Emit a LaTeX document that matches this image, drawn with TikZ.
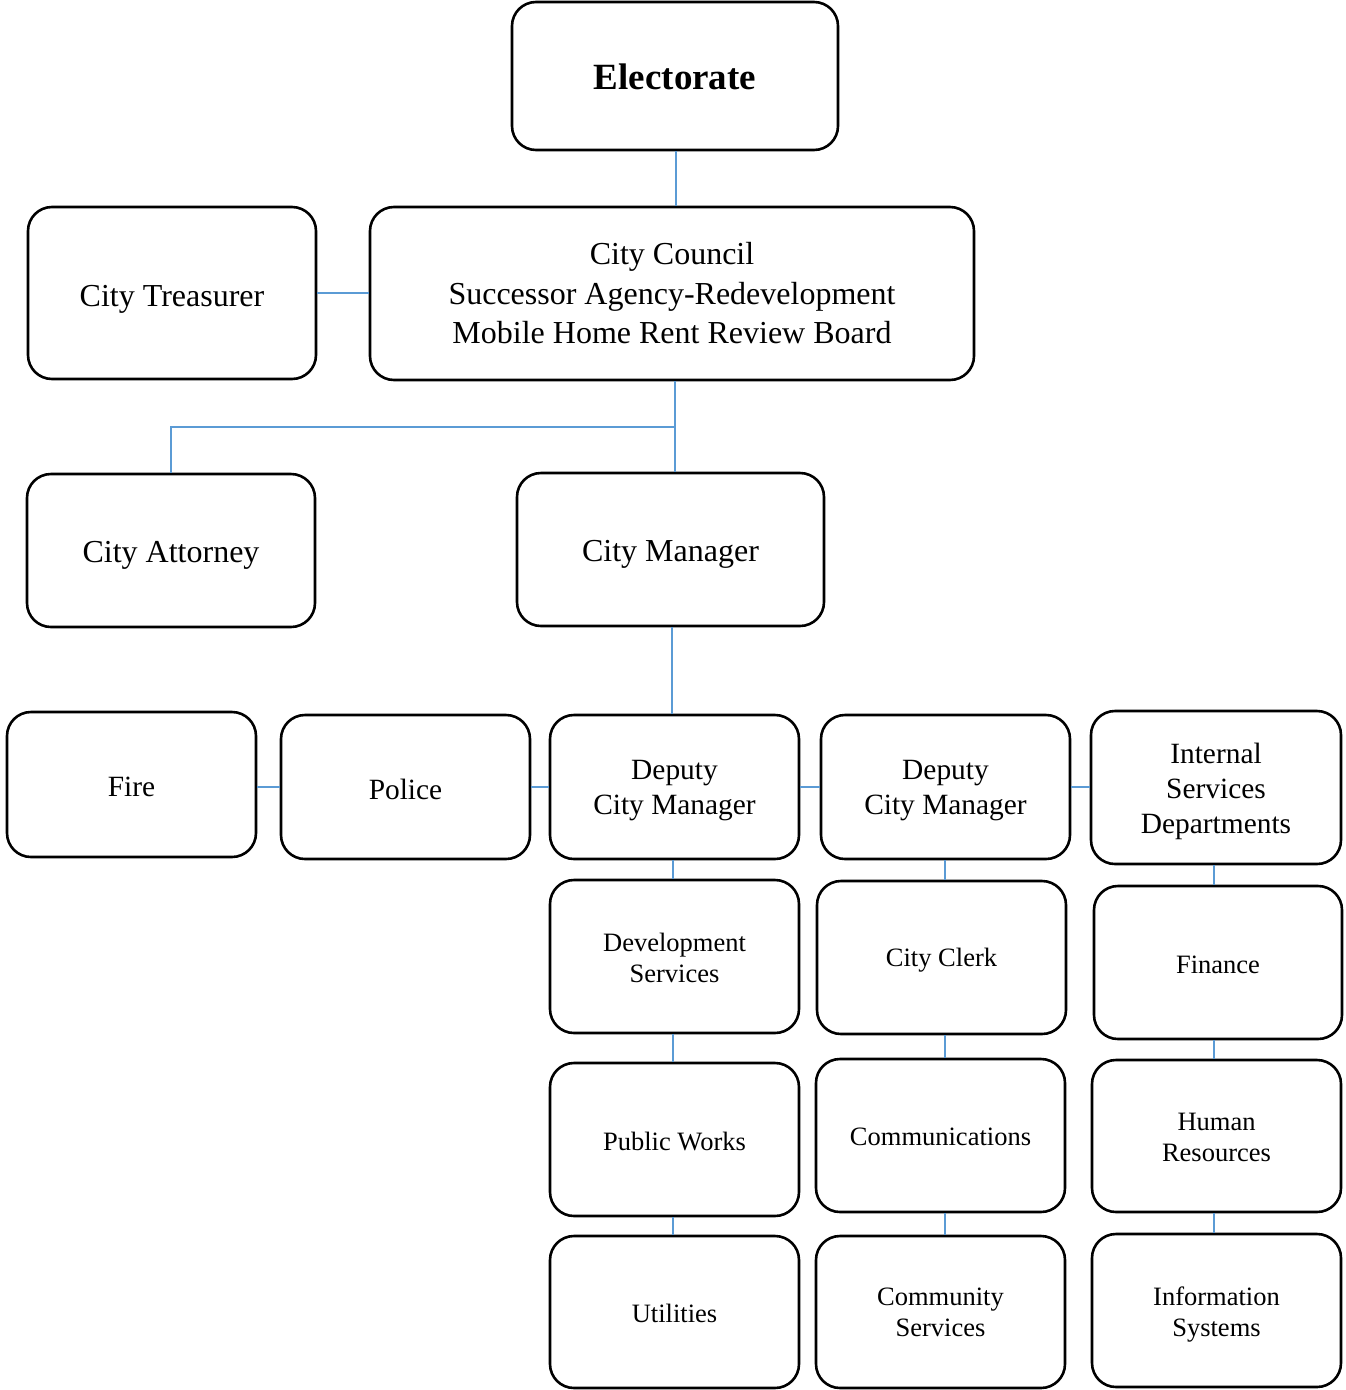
\documentclass[tikz,border=0pt]{standalone}
\usepackage{fontspec}
\setmainfont{Liberation Serif}
\begin{document}
\begin{tikzpicture}[x=1pt,y=-1pt,
  box/.style={draw=black, line width=2.6pt, rounded corners=24pt, fill=white, inner sep=0pt},
  lbl/.style={align=center, inner sep=0pt},
  conn/.style={draw=linkblue, line width=1.4pt},
  fA/.style={font=\fontsize{37}{44}\selectfont\bfseries},
  fB/.style={font=\fontsize{32}{39.5}\selectfont},
  fC/.style={font=\fontsize{29.4}{35}\selectfont},
  fD/.style={font=\fontsize{26.5}{31}\selectfont}]
\definecolor{linkblue}{HTML}{5B9BD5}
\useasboundingbox (0,0) rectangle (1345,1390);
% \bx{name}{left}{top}{right}{bottom}{text}{font}{text offset}
\newcommand\bx[8]{%
  \node[box,minimum width={#4-#2},minimum height={#5-#3}] (#1) at ({(#2+#4)/2},{(#3+#5)/2}) {};
  \node[lbl,#7] (#1t) at ([yshift=-#8pt]#1.center) {#6};}
% nodes
\bx{elec}{512}{2}{838}{150}{Electorate}{fA}{1}
\bx{treas}{28}{207}{316}{379}{City Treasurer}{fB}{6}
\bx{council}{370}{207}{974}{380}{City Council\\Successor Agency-Redevelopment\\Mobile Home Rent Review Board}{fB}{0}
\bx{atty}{27}{474}{315}{627}{City Attorney}{fB}{5}
\bx{mgr}{517}{473}{824}{626}{City Manager}{fB}{5}
\bx{fire}{7}{712}{256}{857}{Fire}{fC}{2}
\bx{police}{281}{715}{530}{859}{Police}{fC}{2}
\bx{dep1}{550}{715}{799}{859}{Deputy\\City Manager}{fC}{4}
\bx{dep2}{821}{715}{1070}{859}{Deputy\\City Manager}{fC}{4}
\bx{isd}{1091}{711}{1341}{864}{Internal\\Services\\Departments}{fC}{4}
\bx{dev}{550}{880}{799}{1033}{Development\\Services}{fD}{1}
\bx{clerk}{817}{881}{1066}{1034}{City Clerk}{fD}{3}
\bx{fin}{1094}{886}{1342}{1039}{Finance}{fD}{2}
\bx{pw}{550}{1063}{799}{1216}{Public Works}{fD}{2}
\bx{comm}{816}{1059}{1065}{1212}{Communications}{fD}{1}
\bx{hr}{1092}{1060}{1341}{1212}{Human\\Resources}{fD}{1}
\bx{util}{550}{1236}{799}{1388}{Utilities}{fD}{1}
\bx{cs}{816}{1236}{1065}{1388}{Community\\Services}{fD}{0}
\bx{is}{1092}{1234}{1341}{1387}{Information\\Systems}{fD}{4}
% connectors
\coordinate (j1) at (675,427);
\coordinate (j2) at (171,427);
\draw[conn] (elec.south -| 676,0) -- (council.north -| 676,0);
\draw[conn] (treas.east) -- (council.west |- treas.east);
\draw[conn] (council.south -| j1) -- (mgr.north -| j1);
\draw[conn] (j1) -- (j2) -- (atty.north -| j2);
\draw[conn] (mgr.south -| 672,0) -- (dep1.north -| 672,0);
\draw[conn] (fire.east |- 0,787) -- (police.west |- 0,787);
\draw[conn] (police.east |- 0,787) -- (dep1.west |- 0,787);
\draw[conn] (dep1.east |- 0,787) -- (dep2.west |- 0,787);
\draw[conn] (dep2.east |- 0,787) -- (isd.west |- 0,787);
\draw[conn] (dep1.south -| 673,0) -- (dev.north -| 673,0);
\draw[conn] (dev.south -| 673,0) -- (pw.north -| 673,0);
\draw[conn] (pw.south -| 673,0) -- (util.north -| 673,0);
\draw[conn] (dep2.south -| 945,0) -- (clerk.north -| 945,0);
\draw[conn] (clerk.south -| 945,0) -- (comm.north -| 945,0);
\draw[conn] (comm.south -| 945,0) -- (cs.north -| 945,0);
\draw[conn] (isd.south -| 1214,0) -- (fin.north -| 1214,0);
\draw[conn] (fin.south -| 1214,0) -- (hr.north -| 1214,0);
\draw[conn] (hr.south -| 1214,0) -- (is.north -| 1214,0);
\end{tikzpicture}
\end{document}
